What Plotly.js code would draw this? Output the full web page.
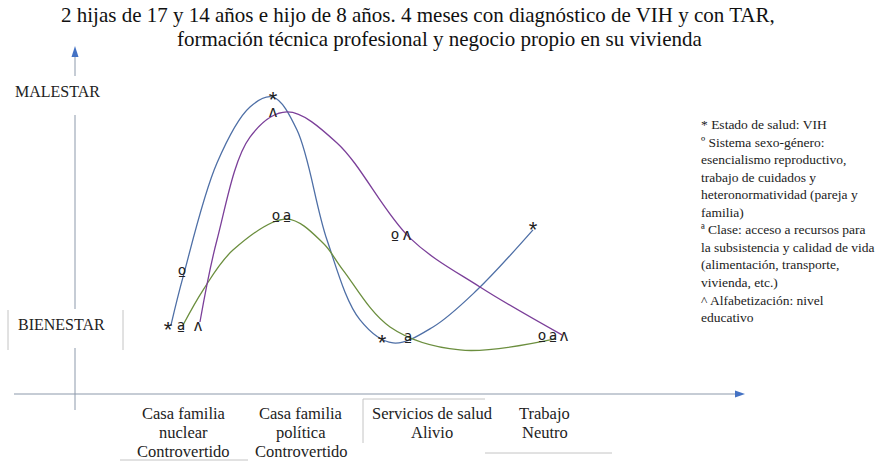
<!DOCTYPE html>
<html>
<head>
<meta charset="utf-8">
<script src="https://cdn.plot.ly/plotly-3.0.1.min.js"></script>
<style>html,body{margin:0;padding:0;background:#fff}#chart{width:881px;height:472px}</style>
</head>
<body>
<div id="chart"></div>
<script>
// ---------- data ----------
const titleLines = ['2 hijas de 17 y 14 años e hijo de 8 años. 4 meses con diagnóstico de VIH y con TAR,',
  'formación técnica profesional y negocio propio en su vivienda'];
const categories = ['Casa familia<br>nuclear<br>Controvertido', 'Casa familia<br>política<br>Controvertido',
  'Servicios de salud<br>Alivio', 'Trabajo<br>Neutro'];
const categoryX = [0.991, 2.009, 3.148, 4.13];
const levelLabels = ['MALESTAR', 'BIENESTAR'];
const legendLines = ['* Estado de salud: VIH', 'º Sistema sexo-género:', 'esencialismo reproductivo,',
  'trabajo de cuidados y', 'heteronormatividad (pareja y', 'familia)', 'ª Clase: acceso a recursos para',
  'la subsistencia y calidad de vida', '(alimentación, transporte,', 'vivienda, etc.)',
  '^ Alfabetización: nivel', 'educativo'];

// curves (x: setting position, y: 0 = bienestar ... 10 = malestar)
const blueX = [0.878, 0.983, 1.278, 1.565, 1.765, 1.974, 2.235, 2.522, 2.809, 3.157, 3.539, 4.026];
const blueY = [0.04, 2.09, 6.94, 9.32, 9.74, 8.34, 3.66, 0.26, -0.72, -0.04, 1.53, 4.09];
const greenX = [0.983, 1.157, 1.417, 1.887, 2.2, 2.374, 2.783, 3.391, 4.217];
const greenY = [0.04, 1.53, 3.23, 4.55, 3.53, 2.38, -0.04, -1.02, -0.55];
const purpleX = [1.130, 1.278, 1.565, 1.887, 2.322, 2.957, 3.565, 4.278];
const purpleY = [0.17, 3.66, 8.04, 9.11, 7.79, 3.74, 1.66, -0.38];

// markers per dimension
const healthX = [0.852, 1.765, 2.713, 4.026], healthY = [-0.04, 9.74, -0.60, 4.21];
const genderX = [0.974, 1.791, 2.826, 4.104], genderY = [2.30, 4.64, 3.87, -0.43];
const classX = [0.965, 1.887, 2.939, 4.2], classY = [-0.04, 4.64, -0.51, -0.43];
const literacyX = [1.113, 1.765, 2.930, 4.296], literacyY = [-0.04, 9.06, 3.83, -0.47];

// ---------- layout helpers ----------
const W = 881, H = 472;
const PX1 = 185, PXU = 115, PY0 = 326, PYU = 23.5;
const xr = [(0 - PX1) / PXU + 1, (W - PX1) / PXU + 1];
const yr = [(PY0 - H) / PYU, PY0 / PYU];
const px = v => v / W, py = v => 1 - v / H;
const line = (x0, y0, x1, y1, color, w) => ({type: 'line', xref: 'paper', yref: 'paper',
  x0: px(x0), y0: py(y0), x1: px(x1), y1: py(y1), line: {color: color, width: w || 1}});
const tri = pts => ({type: 'path', xref: 'paper', yref: 'paper',
  path: 'M' + pts.map(p => px(p[0]) + ',' + py(p[1])).join('L') + 'Z',
  fillcolor: '#4472C4', line: {width: 0}});

const sansMark = 'Liberation Sans, Arial, sans-serif';
const ordMark = 'DejaVu Sans, sans-serif';
// glyph offsets (pixels, + = anchor moved down) so the visible glyph lands on its point
function textTrace(xs, ys, ch, dyPx, size, fam) {
  return {x: xs, y: ys.map(v => v - dyPx / PYU), mode: 'text', text: xs.map(() => ch), textposition: 'middle center',
    textfont: {family: fam, size: size, color: '#222'}, hoverinfo: 'skip', showlegend: false};
}
function curve(xs, ys, color) {
  return {x: xs, y: ys, mode: 'lines', line: {shape: 'spline', smoothing: 1.0, color: color, width: 1.3},
    hoverinfo: 'skip', showlegend: false};
}

const data = [
  curve(blueX, blueY, '#4E6FA6'),
  curve(greenX, greenY, '#6B8E3E'),
  curve(purpleX, purpleY, '#7B3F99'),
  textTrace(healthX, healthY, '*', 4.5, 22, sansMark),
  textTrace(genderX, genderY, 'º', 5, 18, ordMark),
  textTrace(classX, classY, 'ª', 5, 18, ordMark),
  textTrace(literacyX, literacyY, 'ʌ', 0, 16, sansMark)
];

const gray = '#8C99AB', light = '#C4C4C4';
const shapes = [
  line(75, 57, 75, 76, gray), line(75, 115, 75, 309, gray), line(75, 348, 75, 410, gray),
  line(14, 394, 737, 394, gray),
  tri([[75, 46], [71.5, 57], [78.5, 57]]),
  tri([[745, 394], [735, 390.5], [735, 397.5]]),
  line(8, 310, 8, 350, light), line(123, 310, 123, 350, light),
  line(120, 460, 248, 460, light),
  line(363, 399, 363, 443, light), line(363, 399, 485, 399, light),
  line(485, 453, 612, 453, light)
];

const serif = 'Liberation Serif, Times New Roman, serif';
const centered = {xref: 'paper', yref: 'paper', xanchor: 'center', yanchor: 'middle', showarrow: false};
let annotations = [
  Object.assign({text: titleLines[0], x: px(418), y: py(15.5), font: {family: serif, size: 21, color: '#111'}}, centered),
  Object.assign({text: titleLines[1], x: px(440), y: py(39), font: {family: serif, size: 21, color: '#111'}}, centered),
  Object.assign({text: levelLabels[0], x: px(57), y: py(91), font: {family: serif, size: 16, color: '#222'}}, centered),
  Object.assign({text: levelLabels[1], x: px(61), y: py(324), font: {family: serif, size: 16, color: '#222'}}, centered),
  {text: legendLines.join('<br>'), x: px(699), y: py(115), xref: 'paper', yref: 'paper',
    xanchor: 'left', yanchor: 'top', align: 'left', showarrow: false,
    font: {family: serif, size: 13.5, color: '#222'}}
];
categories.forEach((c, i) => {
  c.split('<br>').forEach((t, k) => {
    annotations.push({text: t, x: categoryX[i], y: py(413 + 19.3 * k), xref: 'x', yref: 'paper',
      xanchor: 'center', yanchor: 'middle', showarrow: false, font: {family: serif, size: 16.5, color: '#222'}});
  });
});

const layout = {
  width: W, height: H, margin: {l: 0, r: 0, t: 0, b: 0},
  paper_bgcolor: '#fff', plot_bgcolor: '#fff', showlegend: false,
  xaxis: {range: xr, visible: false, fixedrange: true},
  yaxis: {range: yr, visible: false, fixedrange: true},
  shapes: shapes, annotations: annotations
};
Plotly.newPlot('chart', data, layout, {displayModeBar: false, staticPlot: true});
</script>
</body>
</html>
